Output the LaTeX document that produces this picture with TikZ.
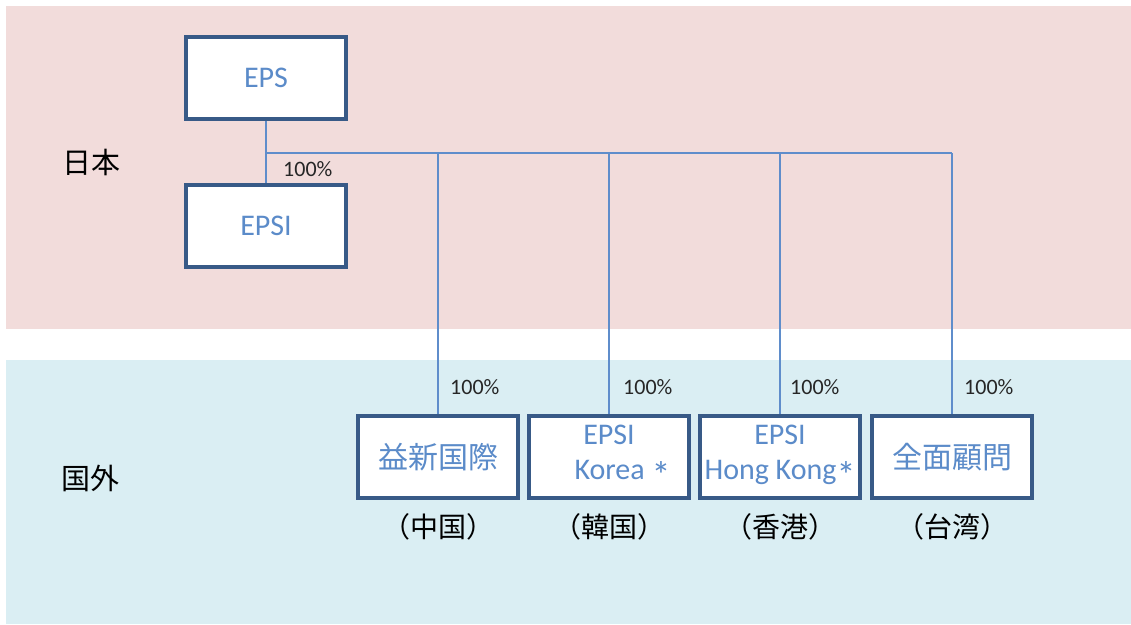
\documentclass[tikz,border=0pt]{standalone}
\usepackage{fontspec}
\setmainfont{Carlito}
\newfontfamily\cjk{Noto Sans CJK JP}
\definecolor{japanband}{HTML}{F2DCDB}
\definecolor{abroadband}{HTML}{DAEEF3}
\definecolor{boxline}{HTML}{385A87}
\definecolor{boxtext}{HTML}{5B8BC9}
\definecolor{wireblue}{HTML}{5F8DCB}
\newcommand{\note}{\raisebox{-0.3em}{\fontsize{38}{35}\selectfont *}}
\begin{document}
\begin{tikzpicture}[x=1pt, y=-1pt,
  unit/.style={draw=boxline, line width=3.2pt, fill=white, text=boxtext,
    minimum width=160pt, minimum height=82pt, inner sep=0pt, align=center,
    font=\fontsize{30}{35}\selectfont},
  wire/.style={draw=wireblue, line width=1.4pt},
  share/.style={anchor=west, inner sep=0pt, text=black!85,
    font=\fontsize{22}{26}\selectfont},
  region/.style={font=\cjk\fontsize{29}{32}\selectfont, inner sep=0pt},
  place/.style={font=\cjk\fontsize{28}{32}\selectfont, inner sep=0pt}]

\useasboundingbox (0,0) rectangle (1131,624);

% bands
\fill [japanband] (6,6) rectangle (1131,329);
\fill [abroadband] (6,360) rectangle (1131,624);

\node [region] (jp) at (91,162) {日本};
\node [region] (ov) at (90,478) {国外};

% japan
\node [unit] (eps) at (266,78) {EPS};
\node [unit] (epsi) at (266,226) {EPSI};

% overseas
\node [unit] (cn) at (438,457) {\cjk 益新国際};
\node [unit] (kr) at (609,457) {EPSI\\\hspace*{0.9em}Korea \note};
\node [unit] (hk) at (780,457) {EPSI\\Hong Kong\note};
\node [unit] (tw) at (952,457) {\cjk 全面顧問};

\node [place] (cnp) at (438,527) {（中国）};
\node [place] (krp) at (609,527) {（韓国）};
\node [place] (hkp) at (780,527) {（香港）};
\node [place] (twp) at (952,527) {（台湾）};

% connectors
\coordinate (bus) at (266,153);
\draw [wire] (eps.south) -- (epsi.north);
\draw [wire] (bus) -- (bus -| tw.north);
\draw [wire] (bus -| cn.north) -- (cn.north);
\draw [wire] (bus -| kr.north) -- (kr.north);
\draw [wire] (bus -| hk.north) -- (hk.north);
\draw [wire] (bus -| tw.north) -- (tw.north);

\node [share] (s0) at (283,169) {100\%};
\node [share] (s1) at (450,387) {100\%};
\node [share] (s2) at (623,387) {100\%};
\node [share] (s3) at (790,387) {100\%};
\node [share] (s4) at (964,387) {100\%};

\end{tikzpicture}
\end{document}
